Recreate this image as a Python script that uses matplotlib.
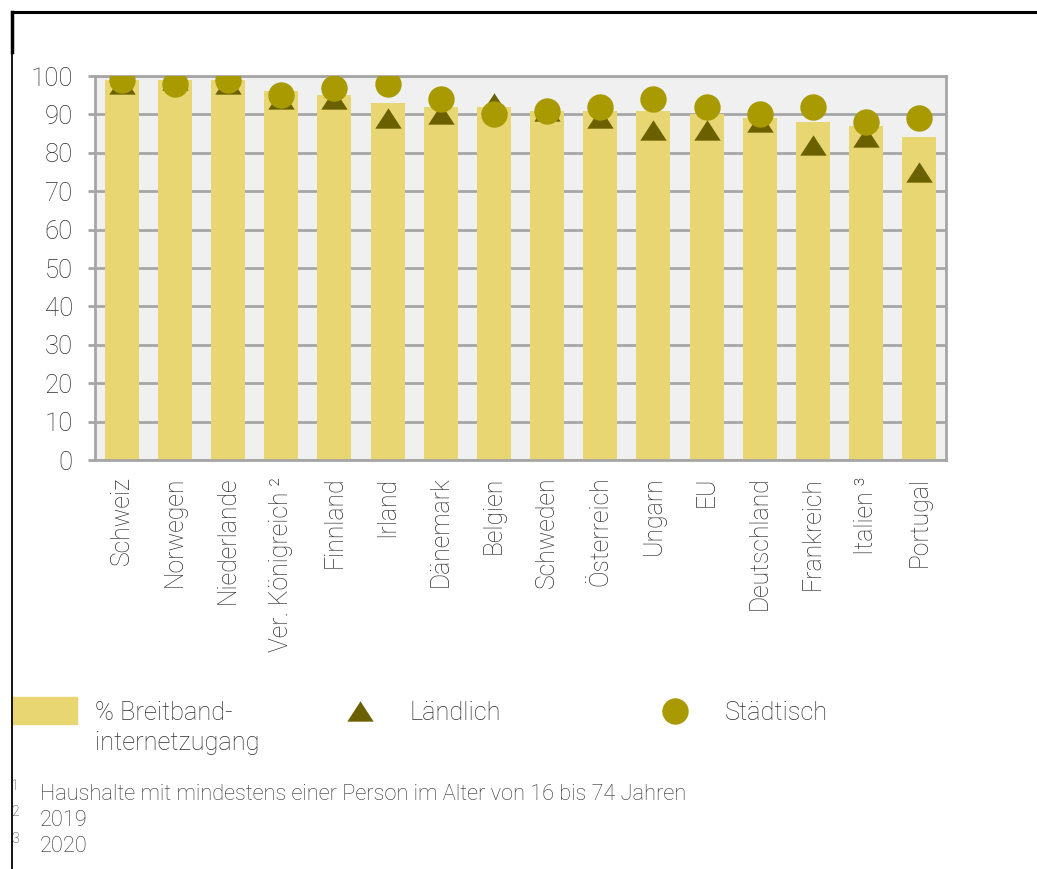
import matplotlib
matplotlib.use("Agg")
import matplotlib.pyplot as plt
from matplotlib.lines import Line2D
from matplotlib.patches import Rectangle
from matplotlib.path import Path
import numpy as np

# ---- data ----
countries = ["Schweiz", "Norwegen", "Niederlande", "Ver. Königreich ²", "Finnland",
             "Irland", "Dänemark", "Belgien", "Schweden", "Österreich", "Ungarn",
             "EU", "Deutschland", "Frankreich", "Italien ³", "Portugal"]
breitband = [99, 99, 99, 96, 95, 93, 92, 92, 91, 91, 91, 90, 89, 88, 87, 84]
laendlich = [98, 99, 98, 94, 94, 89, 90, 93, 91, 89, 86, 86, 88, 82, 84, 75]
staedtisch = [99, 98, 99, 95, 97, 98, 94, 90, 91, 92, 94, 92, 90, 92, 88, 89]
yticks = [0, 10, 20, 30, 40, 50, 60, 70, 80, 90, 100]
legend_labels = ["% Breitband-\ninternetzugang", "Ländlich", "Städtisch"]
footnotes = [("1", "Haushalte mit mindestens einer Person im Alter von 16 bis 74 Jahren"),
             ("2", "2019"),
             ("3", "2020")]

# ---- style ----
BAR = "#e8d672"
CIRC = "#a89a00"
TRI = "#6a6000"
GRID = "#a6a6a6"
BG = "#f0f0f0"
TXT = "#2e2e2e"
FONT = "Roboto"

W, H = 1037, 869
fig = plt.figure(figsize=(W / 100, H / 100), dpi=100)
plt.rcParams["font.family"] = [FONT, "DejaVu Sans"]

def fx(px):
    return px / W

def fy(py):
    return 1 - py / H

ax = fig.add_axes([fx(95), fy(460), fx(946) - fx(95), fy(76) - fy(460)])
ax.set_facecolor(BG)

x = np.arange(len(countries))
ax.bar(x, breitband, width=0.64, color=BAR, zorder=2)

tri = Path([(-1, -0.77), (1, -0.77), (0, 0.77), (-1, -0.77)],
           [Path.MOVETO, Path.LINETO, Path.LINETO, Path.CLOSEPOLY])
ax.plot(x, laendlich, linestyle="none", marker=tri, markersize=19,
        color=TRI, markeredgewidth=0, zorder=3)
ax.plot(x, staedtisch, linestyle="none", marker="o", markersize=19,
        color=CIRC, markeredgewidth=0, zorder=4)

ax.set_xlim(-0.5, len(countries) - 0.5)
ax.set_ylim(0, 100)
ax.set_yticks(yticks)
ax.set_yticklabels([str(v) for v in yticks], fontsize=18.5, color=TXT,
                   fontweight="light")
ax.set_xticks(x)
ax.set_xticklabels(countries, rotation=90, fontsize=17.8, color=TXT,
                   fontweight="light", va="top", ha="center")
ax.tick_params(axis="x", length=0, pad=12)
ax.tick_params(axis="y", length=5, width=2, color=GRID, pad=11)
ax.grid(axis="y", color=GRID, linewidth=2, zorder=1)
ax.set_axisbelow(True)
for s in ax.spines.values():
    s.set_color(GRID)
    s.set_linewidth(2)

# ---- frame lines ----
fig.add_artist(Line2D([fx(12), 1.0], [fy(12), fy(12)], color="black",
                      linewidth=2.2, transform=fig.transFigure))
fig.add_artist(Line2D([fx(12), fx(12)], [fy(12), fy(52)], color="black",
                      linewidth=2.5, transform=fig.transFigure))
fig.add_artist(Line2D([fx(12), fx(12)], [fy(52), 0.0], color="black",
                      linewidth=1.3, transform=fig.transFigure))

# ---- legend ----
fig.add_artist(Rectangle((fx(12), fy(724)), fx(77) - fx(12), fy(697) - fy(724),
                         color=BAR, transform=fig.transFigure))
fig.add_artist(Line2D([fx(360)], [fy(711)], marker=tri, markersize=19,
                      color=TRI, markeredgewidth=0, linestyle="none",
                      transform=fig.transFigure))
fig.add_artist(Line2D([fx(675)], [fy(711)], marker="o", markersize=19,
                      color=CIRC, markeredgewidth=0, linestyle="none",
                      transform=fig.transFigure))
l1, l2 = legend_labels[0].split("\n")
LFS = 18.3
fig.text(fx(95), fy(713), l1, fontsize=LFS, color=TXT, va="center",
         fontweight="light")
fig.text(fx(95), fy(743), l2, fontsize=LFS, color=TXT, va="center",
         fontweight="light")
fig.text(fx(410), fy(713), legend_labels[1], fontsize=LFS, color=TXT,
         va="center", fontweight="light")
fig.text(fx(725), fy(713), legend_labels[2], fontsize=LFS, color=TXT,
         va="center", fontweight="light")

# ---- footnotes ----
for i, (sup, txt) in enumerate(footnotes):
    yc = 794 + i * 26.5
    fig.text(fx(11), fy(yc - 8), sup, fontsize=10, color=TXT, va="center",
             fontweight="light")
    fig.text(fx(40), fy(yc), txt, fontsize=15.7, color=TXT, va="center",
             fontweight="light")

fig.savefig("out.png", dpi=100, facecolor="white")
